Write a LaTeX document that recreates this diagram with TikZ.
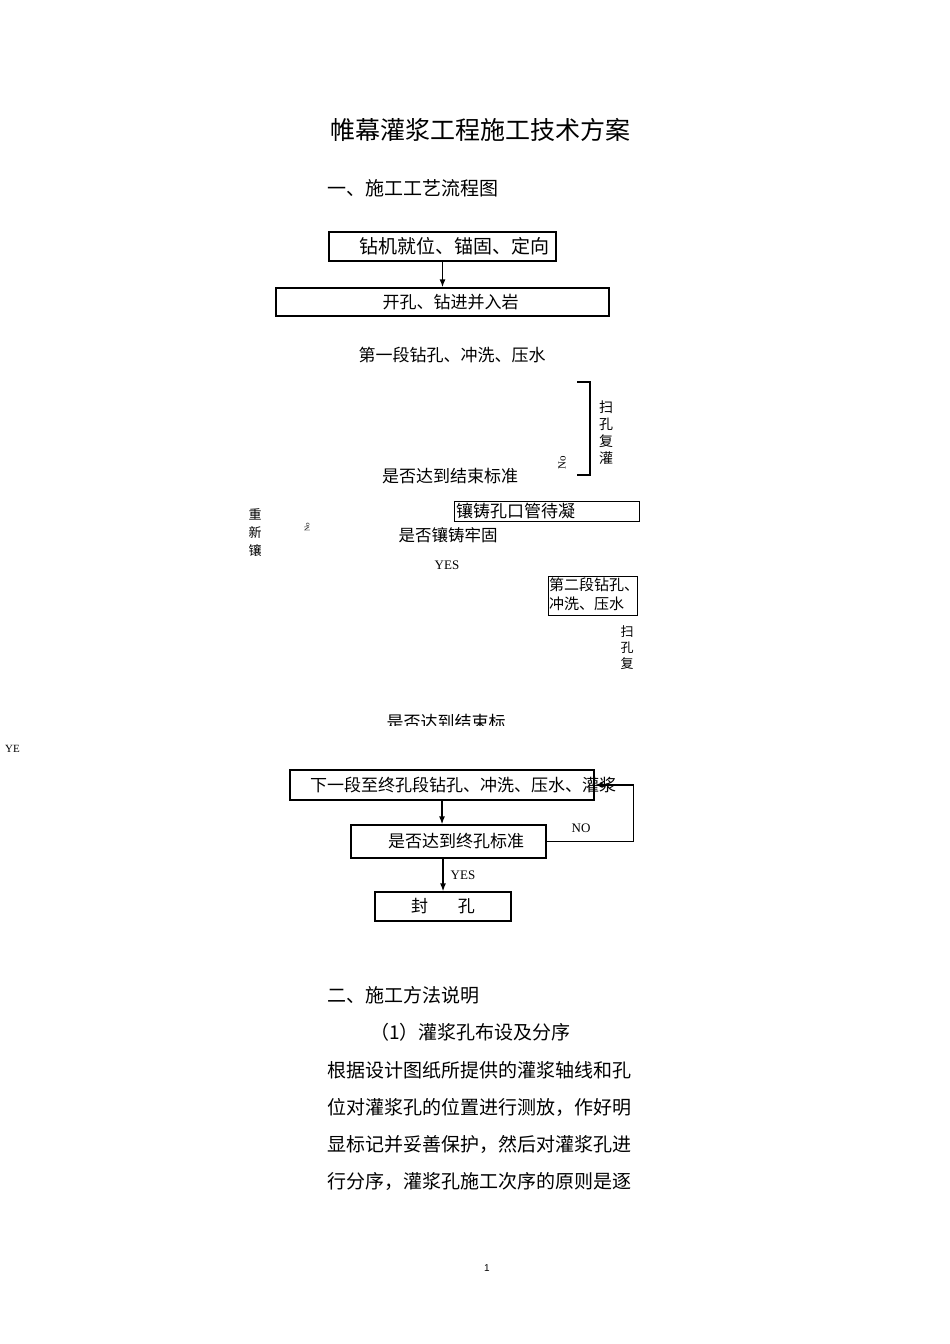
\documentclass[tikz,border=0pt]{standalone}
\usepackage{fontspec}
\setmainfont{Liberation Serif}
\newfontfamily\cjk{Noto Sans CJK SC}
\newfontfamily\pagefont{Liberation Sans}
\usetikzlibrary{arrows.meta}
\usetikzlibrary{positioning}
\newcommand{\cjksize}[1]{\cjk\fontsize{#1}{#1}\selectfont}
\tikzstyle{every node}+=[inner sep=0pt]
\tikzstyle{block} = [rectangle, draw, line width=1.3pt, text centered, font=\cjksize{17}]
\tikzstyle{thinblock} = [rectangle, draw, line width=0.9pt]
\tikzstyle{line} = [draw, line width=1.3pt, -{Latex[length=8pt, width=6pt]}]
\tikzstyle{value} = [black, font=\cjksize{17}]
\tikzstyle{latin} = [black, font=\fontsize{13}{15}\selectfont]
\tikzstyle{upright} = [align=center, font=\cjk\fontsize{14}{17}\selectfont]

\begin{document}
\begin{tikzpicture}[x=1pt, y=-1pt]
            \fill[white] (0,0) rectangle (950,1344);
            \useasboundingbox (0,0) rectangle (950,1344);
            % Headings
            \node [value, font=\cjksize{25}] (title) at (480,130) {帷幕灌浆工程施工技术方案};
            \node [value, font=\cjksize{19}, anchor=west] (sec1) at (327,188) {一、施工工艺流程图};
            % Place nodes
            \node [block, minimum width=227pt, minimum height=29pt, font=\cjksize{19}] (rig) at (442.5,246.5) {\makebox[227pt][r]{钻机就位、锚固、定向\hspace{7pt}}};
            \node [block, minimum width=333pt, minimum height=28pt] (open) at (442.5,302) {\makebox[333pt]{\hspace{16pt}开孔、钻进并入岩}};
            \node [value] (first) at (452,355) {第一段钻孔、冲洗、压水};
            \coordinate (bt) at (577,382);
            \coordinate (bb) at (577,475);
            \begin{scope}
              \clip (590,395) rectangle (625,463);
              \node [upright] (sweep1) at (606,433) {扫\\孔\\复\\灌};
            \end{scope}
            \node [latin, rotate=90, font=\fontsize{11}{12}\selectfont] (no1) at (562,463) {No};
            \node [value] (end1) at (450,476) {是否达到结束标准};
            \node [thinblock, minimum width=185pt, minimum height=20pt, font=\cjksize{17}] (pipe) at (546.5,511) {\makebox[185pt][l]{\hspace{2pt}镶铸孔口管待凝}};
            \node [upright, font=\cjk\fontsize{13}{18}\selectfont] (reset) at (255,533) {重\\新\\镶};
            \node [latin, rotate=90, font=\fontsize{7}{8}\selectfont] (no2) at (307,527) {No};
            \node [value, font=\cjksize{16.5}] (firm) at (448,535) {是否镶铸牢固};
            \node [latin] (yes1) at (447,565) {YES};
            \node [thinblock, minimum width=89pt, minimum height=39pt] (second) at (592.5,595.5) {};
            \node [align=left, anchor=north west, font=\cjk\fontsize{15}{19}\selectfont] (secondtxt) at (549,578) {第二段钻孔、\\冲洗、压水};
            \node [upright, font=\cjk\fontsize{13}{16}\selectfont] (sweep2) at (627,648) {扫\\孔\\复};
            \begin{scope}
              \clip (370,700) rectangle (530,725.5);
              \node [value] (end2) at (446,722.5) {是否达到结束标};
            \end{scope}
            \begin{scope}
              \clip (0,735) rectangle (19,751);
              \node [latin, font=\fontsize{11}{12}\selectfont, anchor=west] (yes2) at (5,748.5) {YES};
            \end{scope}
            \node [block, minimum width=304pt, minimum height=30pt] (next) at (442,785) {\makebox[304pt][l]{\hspace{20pt}下一段至终孔段钻孔、冲洗、压水、灌浆}};
            \node [block, minimum width=195pt, minimum height=33pt] (ask) at (448.5,841.5) {\makebox[195pt]{\hspace{15pt}是否达到终孔标准}};
            \node [latin] (no3) at (581,828) {NO};
            \node [block, minimum width=136pt, minimum height=29pt] (seal) at (443,906.5) {封\hspace{30pt}孔};
            \node [latin] (yes3) at (463,875) {YES};
            % Draw edges
            \path [line] (rig) -- (open);
            \draw [line width=2pt] (bt) -- ++(13,0) |- (bb);
            \path [line] (next.south) -- (next.south |- ask.north);
            \path [line] (seal.north |- ask.south) -- (seal.north);
            \path [line] (ask.east) -- ++(87,0) |- (next.east);
            % Text below
            \node [value, font=\cjksize{19}, anchor=west] (sec2) at (327,995) {二、施工方法说明};
            \node [value, font=\cjksize{19}, anchor=west] (sub1) at (370,1032) {（1）灌浆孔布设及分序};
            \foreach \y/\txt [count=\i] in {1070/根据设计图纸所提供的灌浆轴线和孔, 1107/位对灌浆孔的位置进行测放，作好明, 1144/显标记并妥善保护，然后对灌浆孔进, 1181/行分序，灌浆孔施工次序的原则是逐}
              \node [value, font=\cjksize{19}, anchor=west] (par\i) at (327,\y) {\txt};
            \node [font=\pagefont\fontsize{10}{12}\selectfont] (page) at (487,1268) {1};
          \end{tikzpicture}
\end{document}
